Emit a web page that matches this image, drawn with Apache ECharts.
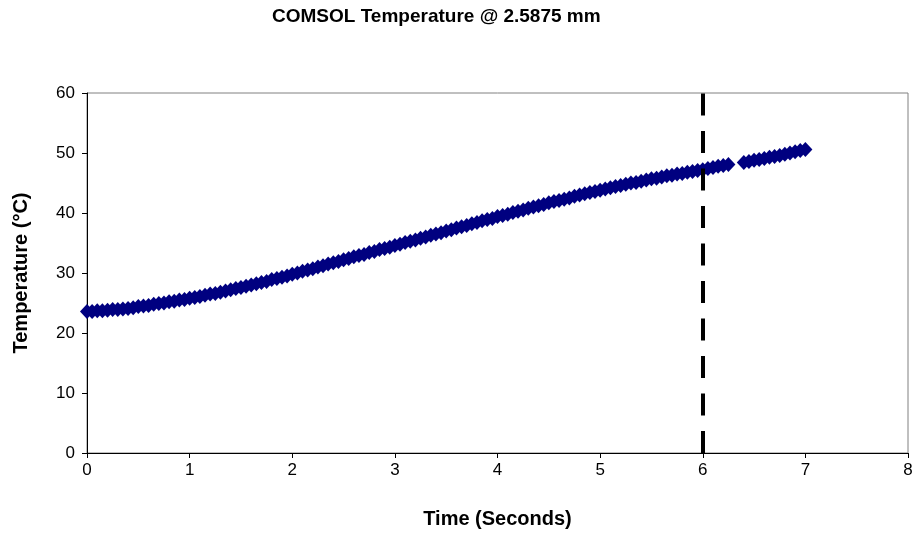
<!DOCTYPE html>
<html lang="en">
<head>
    <meta charset="UTF-8">
    <title>COMSOL Temperature</title>
    <style>
        html, body { margin: 0; padding: 0; background: #fff; }
        #chart { width: 916px; height: 539px; }
    </style>
</head>
<body>
    <div id="chart"></div>
</body>
<script src="https://cdn.jsdelivr.net/npm/echarts@6/dist/echarts.min.js"></script>
<script>
    // time (s) and temperature (°C)
    var times = [
        0.00, 0.05, 0.10, 0.15, 0.20, 0.25, 0.30, 0.35, 0.40, 0.45,
        0.50, 0.55, 0.60, 0.65, 0.70, 0.75, 0.80, 0.85, 0.90, 0.95,
        1.00, 1.05, 1.10, 1.15, 1.20, 1.25, 1.30, 1.35, 1.40, 1.45,
        1.50, 1.55, 1.60, 1.65, 1.70, 1.75, 1.80, 1.85, 1.90, 1.95,
        2.00, 2.05, 2.10, 2.15, 2.20, 2.25, 2.30, 2.35, 2.40, 2.45,
        2.50, 2.55, 2.60, 2.65, 2.70, 2.75, 2.80, 2.85, 2.90, 2.95,
        3.00, 3.05, 3.10, 3.15, 3.20, 3.25, 3.30, 3.35, 3.40, 3.45,
        3.50, 3.55, 3.60, 3.65, 3.70, 3.75, 3.80, 3.85, 3.90, 3.95,
        4.00, 4.05, 4.10, 4.15, 4.20, 4.25, 4.30, 4.35, 4.40, 4.45,
        4.50, 4.55, 4.60, 4.65, 4.70, 4.75, 4.80, 4.85, 4.90, 4.95,
        5.00, 5.05, 5.10, 5.15, 5.20, 5.25, 5.30, 5.35, 5.40, 5.45,
        5.50, 5.55, 5.60, 5.65, 5.70, 5.75, 5.80, 5.85, 5.90, 5.95,
        6.00, 6.05, 6.10, 6.15, 6.20, 6.25,
        6.40, 6.45, 6.50, 6.55, 6.60, 6.65, 6.70, 6.75, 6.80, 6.85,
        6.90, 6.95, 7.00
    ];
    var temps = [
        23.6, 23.6, 23.7, 23.7, 23.8, 23.9, 23.9, 24.0, 24.1, 24.2,
        24.4, 24.5, 24.6, 24.8, 24.9, 25.0, 25.2, 25.3, 25.5, 25.6,
        25.8, 25.9, 26.1, 26.3, 26.5, 26.6, 26.8, 27.0, 27.2, 27.4,
        27.6, 27.8, 28.0, 28.2, 28.4, 28.6, 28.9, 29.1, 29.3, 29.5,
        29.8, 30.0, 30.3, 30.5, 30.7, 31.0, 31.2, 31.5, 31.7, 31.9,
        32.2, 32.4, 32.7, 32.9, 33.1, 33.4, 33.6, 33.9, 34.1, 34.3,
        34.6, 34.8, 35.1, 35.3, 35.5, 35.8, 36.0, 36.3, 36.5, 36.7,
        37.0, 37.2, 37.5, 37.7, 37.9, 38.2, 38.4, 38.7, 38.9, 39.1,
        39.4, 39.6, 39.8, 40.1, 40.3, 40.5, 40.8, 41.0, 41.2, 41.4,
        41.7, 41.9, 42.1, 42.3, 42.5, 42.8, 43.0, 43.2, 43.4, 43.6,
        43.8, 44.0, 44.2, 44.4, 44.6, 44.8, 45.0, 45.1, 45.3, 45.5,
        45.7, 45.8, 46.0, 46.2, 46.3, 46.5, 46.6, 46.8, 46.9, 47.1,
        47.2, 47.4, 47.6, 47.8, 47.9, 48.1,
        48.4, 48.6, 48.8, 48.9, 49.1, 49.3, 49.4, 49.6, 49.8, 50.0,
        50.2, 50.4, 50.6
    ];
    var cutoffTime = 6; // dashed marker line

    var points = times.map(function (t, i) { return [t, temps[i]]; });

    var chart = echarts.init(document.getElementById('chart'));
    var font = 'Arial, "Liberation Sans", sans-serif';

    var option = {
        backgroundColor: '#fff',
        animation: false,
        title: {
            text: 'COMSOL Temperature @ 2.5875 mm',
            left: 267,
            top: 2,
            textStyle: { fontFamily: font, fontSize: 19, fontWeight: 'bold', color: '#000' }
        },
        grid: {
            left: 87, right: 8, top: 93, bottom: 86,
            show: true, borderColor: '#808080', borderWidth: 1
        },
        xAxis: {
            type: 'value',
            min: 0, max: 8, interval: 1,
            name: 'Time (Seconds)',
            nameLocation: 'middle',
            nameGap: 56,
            nameTextStyle: { fontFamily: font, fontSize: 20, fontWeight: 'bold', color: '#000' },
            axisLine: { lineStyle: { color: '#000', width: 1 } },
            axisTick: { show: true, length: 5, lineStyle: { color: '#000' } },
            axisLabel: { fontFamily: font, fontSize: 17, color: '#000', margin: 9 },
            splitLine: { show: false }
        },
        yAxis: {
            type: 'value',
            min: 0, max: 60, interval: 10,
            name: 'Temperature (°C)',
            nameLocation: 'middle',
            nameGap: 56,
            nameTextStyle: { fontFamily: font, fontSize: 20, fontWeight: 'bold', color: '#000' },
            axisLine: { show: true, lineStyle: { color: '#000', width: 1 } },
            axisTick: { show: true, length: 5, lineStyle: { color: '#000' } },
            axisLabel: { fontFamily: font, fontSize: 17, color: '#000', margin: 12 },
            splitLine: { show: false }
        },
        series: [
            {
                type: 'scatter',
                data: points,
                symbol: 'diamond',
                symbolSize: [14, 15],
                itemStyle: { color: '#000080', opacity: 1 },
                markLine: {
                    silent: true,
                    symbol: ['none', 'none'],
                    label: { show: false },
                    lineStyle: { color: '#000', width: 4, type: [22, 15.5] },
                    data: [{ xAxis: cutoffTime }]
                }
            }
        ]
    };

    chart.setOption(option);
</script>
</html>
